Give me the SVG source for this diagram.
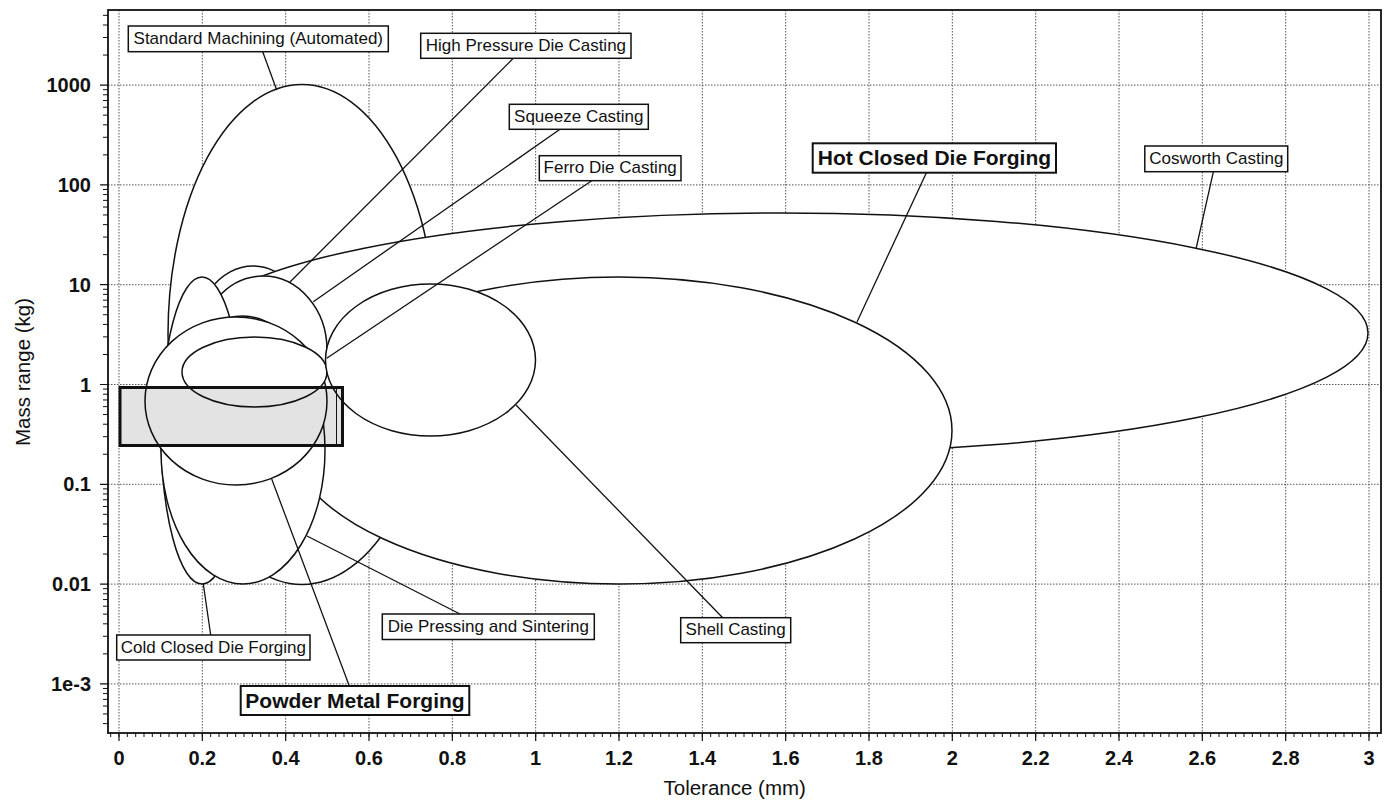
<svg xmlns="http://www.w3.org/2000/svg" width="1386" height="800" viewBox="0 0 1386 800">
<style>
.grid{stroke:#555;stroke-width:1;stroke-dasharray:1.5 1.5;fill:none}
.reg{fill:#fff;stroke:#111;stroke-width:1.5}
.lead{stroke:#111;stroke-width:1.3;fill:none}
.box{fill:#fff;stroke:#111;stroke-width:1.5}
.boxb{fill:#fff;stroke:#111;stroke-width:2}
.t{font-family:"Liberation Sans",Arial,sans-serif;fill:#111}
.lbl{font-size:17px;text-anchor:middle}
.lblb{font-size:21px;font-weight:bold;text-anchor:middle}
.tk{font-size:20px;font-weight:bold}
.ttl{font-size:20.5px;text-anchor:middle}
.ax{stroke:#111;stroke-width:1.8;fill:none}
</style>
<rect x="0" y="0" width="1386" height="800" fill="#fff"/>
<g id="grid">
<path class="grid" d="M119 10V733M202.33 10V733M285.67 10V733M369 10V733M452.33 10V733M535.67 10V733M619 10V733M702.33 10V733M785.67 10V733M869 10V733M952.33 10V733M1035.67 10V733M1119 10V733M1202.33 10V733M1285.67 10V733M1369 10V733"/>
<path class="grid" d="M108 85.1H1380M108 184.9H1380M108 284.7H1380M108 384.5H1380M108 484.3H1380M108 584.1H1380M108 683.9H1380"/>
</g>
<g id="regions">
<g id="standard-machining-region"><ellipse class="reg" cx="302" cy="334.5" rx="134" ry="250"/></g>
<g id="high-pressure-die-casting-region"><ellipse class="reg" cx="253" cy="350" rx="62" ry="84"/></g>
<g id="cosworth-casting-region"><ellipse class="reg" cx="780" cy="333" rx="588" ry="120"/></g>
<g id="hot-closed-die-forging-region"><ellipse class="reg" cx="619" cy="430.5" rx="333" ry="153.5"/></g>
<g id="squeeze-casting-region"><ellipse class="reg" cx="263" cy="350" rx="64" ry="74"/></g>
<g id="cold-closed-die-forging-region"><ellipse class="reg" cx="202" cy="430.5" rx="41" ry="153.5"/></g>
<g id="die-pressing-region"><ellipse class="reg" cx="243" cy="450" rx="82" ry="134"/></g>
<g id="powder-metal-forging-region"><ellipse class="reg" cx="236" cy="401" rx="91" ry="84"/></g>
<g id="ferro-die-casting-region"><ellipse class="reg" cx="254.5" cy="372" rx="72.5" ry="35"/></g>
<g id="shell-casting-region"><ellipse class="reg" cx="430.5" cy="360" rx="105" ry="76"/></g>
<g id="target-box">
<rect x="120" y="387.5" width="222.5" height="58" fill="#000" fill-opacity="0.11" stroke="#111" stroke-width="3"/>
<path d="M336.5 388V445" stroke="#111" stroke-width="1"/>
</g>
</g>
<g id="axes">
<rect class="ax" x="108" y="10" width="1273" height="723"/>
<path stroke="#111" stroke-width="1.2" d="M100 85.1H108M100 184.9H108M100 284.7H108M100 384.5H108M100 484.3H108M100 584.1H108M100 683.9H108"/>
<path stroke="#111" stroke-width="1" d="M103 55.06H108M103 37.49H108M103 25.02H108M103 15.34H108M103 154.86H108M103 137.29H108M103 124.82H108M103 115.14H108M103 107.24H108M103 100.56H108M103 94.78H108M103 89.67H108M103 254.66H108M103 237.09H108M103 224.62H108M103 214.94H108M103 207.04H108M103 200.36H108M103 194.58H108M103 189.47H108M103 354.46H108M103 336.89H108M103 324.42H108M103 314.74H108M103 306.84H108M103 300.16H108M103 294.38H108M103 289.27H108M103 454.26H108M103 436.69H108M103 424.22H108M103 414.54H108M103 406.64H108M103 399.96H108M103 394.18H108M103 389.07H108M103 554.06H108M103 536.49H108M103 524.02H108M103 514.34H108M103 506.44H108M103 499.76H108M103 493.98H108M103 488.87H108M103 653.86H108M103 636.29H108M103 623.82H108M103 614.14H108M103 606.24H108M103 599.56H108M103 593.78H108M103 588.67H108M103 723.62H108M103 713.94H108M103 706.04H108M103 699.36H108M103 693.58H108M103 688.47H108"/>
<path stroke="#111" stroke-width="1.2" d="M119 733V741M202.33 733V741M285.67 733V741M369 733V741M452.33 733V741M535.67 733V741M619 733V741M702.33 733V741M785.67 733V741M869 733V741M952.33 733V741M1035.67 733V741M1119 733V741M1202.33 733V741M1285.67 733V741M1369 733V741"/>
<path stroke="#111" stroke-width="4" stroke-dasharray="1 7.3333" d="M110.17 735H1378"/>
</g>
<g id="tick-labels" class="t tk">
<g text-anchor="end">
<text x="91" y="92">1000</text>
<text x="91" y="192">100</text>
<text x="91" y="292">10</text>
<text x="91" y="391.5">1</text>
<text x="91" y="491">0.1</text>
<text x="91" y="591">0.01</text>
<text x="91" y="691">1e-3</text>
</g>
<g text-anchor="middle">
<text x="119" y="765">0</text>
<text x="202.33" y="765">0.2</text>
<text x="285.67" y="765">0.4</text>
<text x="369" y="765">0.6</text>
<text x="452.33" y="765">0.8</text>
<text x="535.67" y="765">1</text>
<text x="619" y="765">1.2</text>
<text x="702.33" y="765">1.4</text>
<text x="785.67" y="765">1.6</text>
<text x="869" y="765">1.8</text>
<text x="952.33" y="765">2</text>
<text x="1035.67" y="765">2.2</text>
<text x="1119" y="765">2.4</text>
<text x="1202.33" y="765">2.6</text>
<text x="1285.67" y="765">2.8</text>
<text x="1369" y="765">3</text>
</g>
</g>
<g id="axis-titles" class="t ttl">
<text x="734.7" y="795">Tolerance (mm)</text>
<text transform="translate(30 372) rotate(-90)" x="0" y="0">Mass range (kg)</text>
</g>
<g id="connectors">
<path class="lead" d="M262.7 51.7L276.7 90"/>
<path class="lead" d="M513.3 58.3L290 282"/>
<path class="lead" d="M560 129.3L313.3 301.7"/>
<path class="lead" d="M591.7 180.7L326.7 358.3"/>
<path class="lead" d="M926.4 172.7L857 322"/>
<path class="lead" d="M1213.4 171.7L1196 249"/>
<path class="lead" d="M210.7 635L203.3 584"/>
<path class="lead" d="M349.3 686L271.7 479"/>
<path class="lead" d="M460 614L307 536"/>
<path class="lead" d="M722.7 617.7L516 405"/>
</g>
<g id="labels" class="t">
<g id="label-standard-machining"><rect class="box" x="128.3" y="26" width="260" height="25.7"/><text class="lbl" x="258.3" y="44">Standard Machining (Automated)</text></g>
<g id="label-high-pressure-die-casting"><rect class="box" x="420.7" y="33.3" width="210.3" height="25"/><text class="lbl" x="525.9" y="51">High Pressure Die Casting</text></g>
<g id="label-squeeze-casting"><rect class="box" x="509.3" y="104.3" width="139" height="25"/><text class="lbl" x="578.8" y="122">Squeeze Casting</text></g>
<g id="label-ferro-die-casting"><rect class="box" x="539.3" y="155.7" width="141.7" height="25"/><text class="lbl" x="610.2" y="173.4">Ferro Die Casting</text></g>
<g id="label-hot-closed-die-forging"><rect class="boxb" x="812.7" y="143.3" width="243.3" height="29.4"/><text class="lblb" x="934.4" y="165">Hot Closed Die Forging</text></g>
<g id="label-cosworth-casting"><rect class="box" x="1144.8" y="146" width="142.9" height="25.7"/><text class="lbl" x="1216.3" y="164">Cosworth Casting</text></g>
<g id="label-cold-closed-die-forging"><rect class="box" x="116.7" y="635" width="193.3" height="25"/><text class="lbl" x="213.4" y="652.7">Cold Closed Die Forging</text></g>
<g id="label-die-pressing-and-sintering"><rect class="box" x="382.3" y="614" width="212" height="25.5"/><text class="lbl" x="488.3" y="631.8">Die Pressing and Sintering</text></g>
<g id="label-shell-casting"><rect class="box" x="680.7" y="617.7" width="110" height="25"/><text class="lbl" x="735.7" y="635.4">Shell Casting</text></g>
<g id="label-powder-metal-forging"><rect class="boxb" x="240.7" y="686" width="228.6" height="29"/><text class="lblb" x="355" y="707.7">Powder Metal Forging</text></g>
</g>
</svg>
